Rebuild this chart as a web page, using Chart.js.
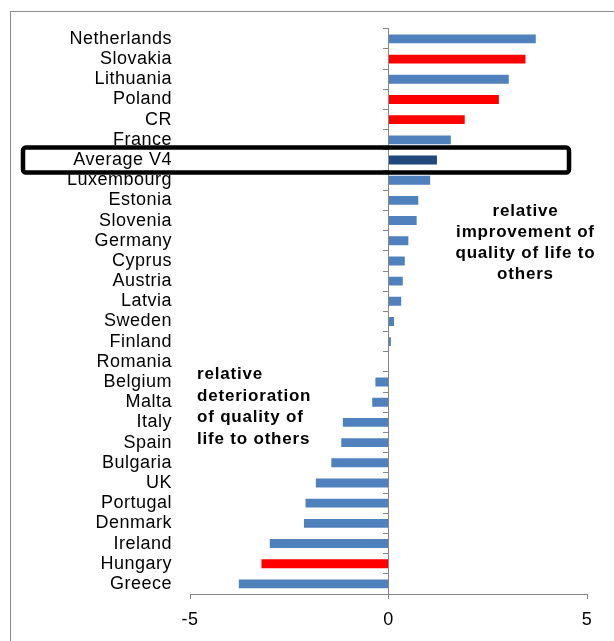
<!DOCTYPE html>
<html><head><meta charset="utf-8">
<script src="https://cdn.jsdelivr.net/npm/chart.js@4/dist/chart.umd.min.js"></script>
<style>
html,body{margin:0;padding:0;background:#fff;}
#wrap{position:relative;width:614px;height:641px;overflow:hidden;background:#fff;}
#frame{position:absolute;left:10px;top:11px;width:700px;height:700px;border:1px solid #8c8c8c;}
canvas{position:absolute;left:0;top:0;}
</style></head><body>
<div id="wrap"><div id="frame"></div><canvas id="c" width="614" height="641" style="width:614px;height:641px"></canvas></div>
<script>
const categories = ['Netherlands','Slovakia','Lithuania','Poland','CR','France','Average V4','Luxembourg','Estonia','Slovenia','Germany','Cyprus','Austria','Latvia','Sweden','Finland','Romania','Belgium','Malta','Italy','Spain','Bulgaria','UK','Portugal','Denmark','Ireland','Hungary','Greece'];
const values = [3.71,3.45,3.03,2.78,1.92,1.57,1.22,1.05,0.75,0.71,0.50,0.41,0.36,0.32,0.14,0.06,0.0,-0.33,-0.41,-1.15,-1.19,-1.44,-1.83,-2.09,-2.13,-2.99,-3.20,-3.77];
const v4Countries = ['Slovakia','Poland','CR','Hungary'];
const averageLabel = 'Average V4';
const xTicks = [-5, 0, 5];
const rightNote = ['relative','improvement of','quality of life to','others'];
const leftNote = ['relative','deterioration','of quality of','life to others'];

const FONT = '"Liberation Sans", Arial, sans-serif';
const BLUE = '#4F81BD', RED = '#FF0000', DARK = '#1F497D', AXIS = '#868686';
const barColors = categories.map(c => v4Countries.includes(c) ? RED : (c === averageLabel ? DARK : BLUE));

const notes = {
  id: 'notes',
  beforeDraw(chart) { chart.ctx.letterSpacing = '0.5px'; },
  afterDraw(chart) {
    const {ctx, scales: {x, y}} = chart;
    ctx.save();
    const yc = y.getPixelForValue(categories.indexOf(averageLabel));
    ctx.lineWidth = 4.5; ctx.strokeStyle = '#000';
    ctx.beginPath(); ctx.roundRect(23, yc - 12.5, 546, 25, 3); ctx.stroke();
    ctx.fillStyle = '#000';
    ctx.font = 'bold 17px ' + FONT;
    ctx.letterSpacing = '0.8px';
    ctx.textBaseline = 'alphabetic';
    ctx.textAlign = 'center';
    rightNote.forEach((t, i) => ctx.fillText(t, x.getPixelForValue(3.45), 216 + i * 21));
    ctx.textAlign = 'left';
    leftNote.forEach((t, i) => ctx.fillText(t, 197, 379 + i * 21.7));
    ctx.restore();
  }
};

new Chart(document.getElementById('c'), {
  type: 'bar',
  data: {
    labels: categories,
    datasets: [{
      data: values,
      backgroundColor: barColors,
      borderWidth: 0,
      barPercentage: 0.44,
      categoryPercentage: 1,
      yAxisID: 'y'
    }]
  },
  options: {
    indexAxis: 'y',
    responsive: false,
    animation: false,
    events: [],
    layout: {padding: {top: 28, right: 27, left: 0, bottom: 0}},
    plugins: {legend: {display: false}, tooltip: {enabled: false}, title: {display: false}},
    scales: {
      x: {
        type: 'linear', min: -5, max: 5, position: 'bottom',
        afterBuildTicks(s) { s.ticks = xTicks.map(v => ({value: v})); },
        grid: {drawOnChartArea: false, tickLength: 5, color: AXIS},
        border: {color: AXIS, width: 1},
        ticks: {color: '#000', font: {size: 18, family: FONT}, padding: 10, maxRotation: 0},
        afterFit(s) { s.height = 47; }
      },
      y: {
        type: 'category', position: 'left', offset: true,
        grid: {display: false, drawTicks: false},
        border: {display: false},
        ticks: {color: '#000', font: {size: 18, family: FONT}, padding: 18, autoSkip: false},
        afterFit(s) { s.width = 190; }
      },
      y2: {
        type: 'category', labels: categories, position: {x: 0}, offset: true,
        grid: {offset: true, drawOnChartArea: false, tickLength: 5, color: AXIS},
        border: {color: AXIS, width: 1},
        ticks: {display: false}
      }
    }
  },
  plugins: [notes]
});
</script>
</body></html>
